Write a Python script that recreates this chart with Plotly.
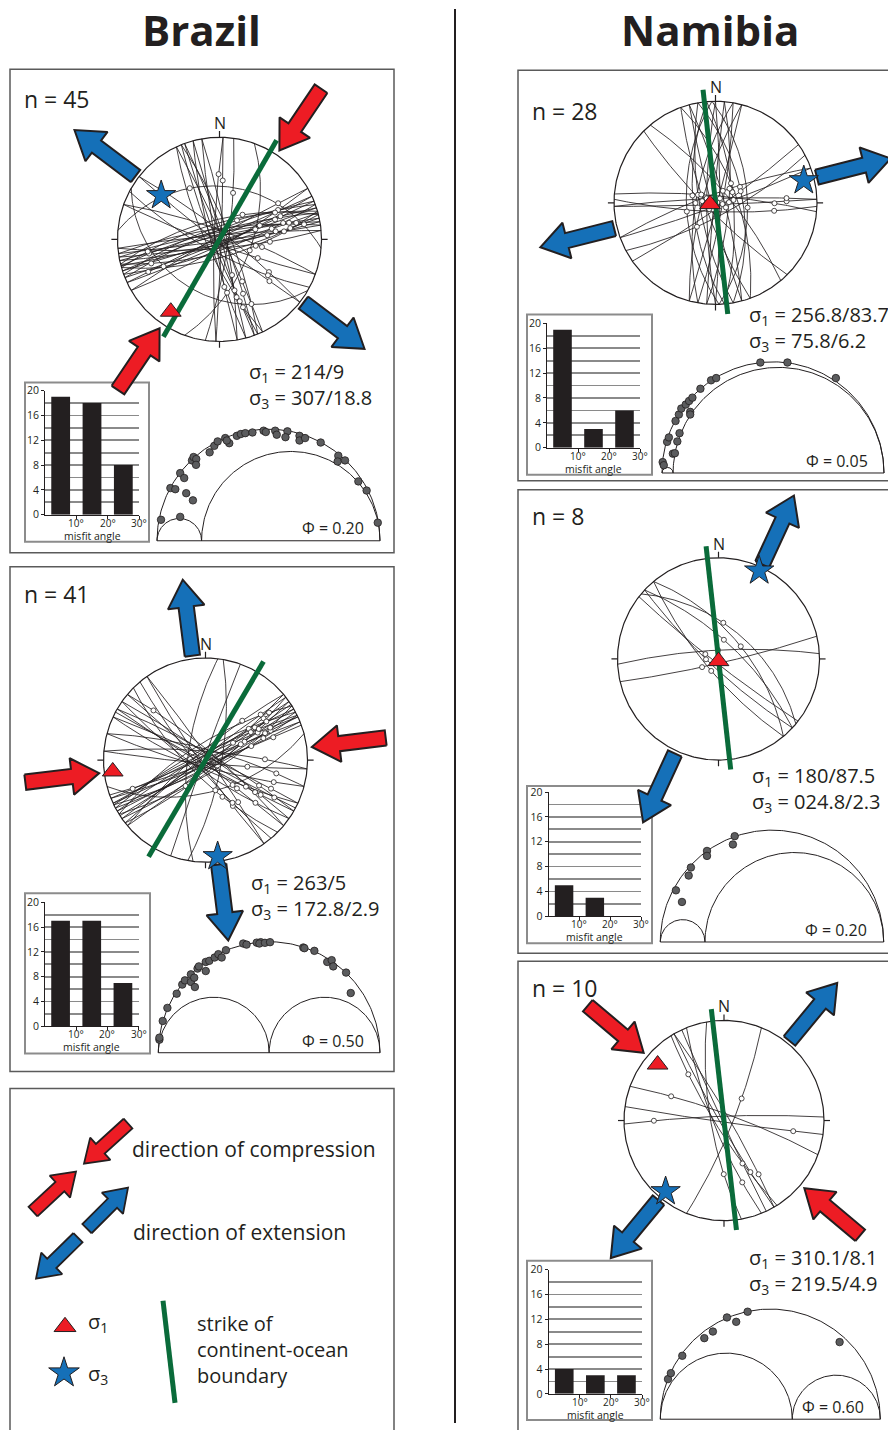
import numpy as np
import plotly.graph_objects as go

W, H = 888, 1430
SY = 1446 / 1430          # vertical compensation of the page capture
FONT = "Open Sans"
INK = "#231F20"
RED = "#ED1C24"
BLUE = "#1570B8"
GREEN = "#0A6B3A"
DOTC = "#5B5C5E"
BOXC = "#8C8C8C"
FRAME = "#5A5A5A"

# ------------------------------------------------------------------ data
# Brazil, upper panel
b1_n = 45
b1_strike = [75, 255, 72, 252, 78, 258, 70, 250, 80, 260, 68, 248, 74, 254, 82, 262, 65, 245, 76, 256, 85, 265, 60, 240,
             160, 340, 165, 345, 158, 338, 170, 350, 155, 335,
             110, 290, 128, 308, 118,
             2, 182, 8,
             275, 120, 20]
b1_dip = [85, 80, 88, 84, 82, 86, 78, 76, 84, 82, 86, 80, 70, 72, 88, 78, 84, 88, 75, 68, 80, 85, 82, 86,
          86, 84, 80, 88, 82, 78, 85, 82, 75, 86,
          84, 80, 86, 82, 75,
          88, 84, 80,
          35, 32, 55]
b1_rake = [35, 20, 50, 155, 20, 160, 25, 115, 40, 165, 30, 155, 55, 20, 25, 170, 45, 15, 160, 120, 38, 148, 28, 158,
           25, 150, 35, 145, 20, 160, 40, 130, 30, 140,
           45, 135, 25, 150, 30,
           30, 155, 40,
           60, 120, 90]
b1_sigma1 = (214, 9)
b1_sigma3 = (307, 18.8)
b1_sigma1_text = "214/9"
b1_sigma3_text = "307/18.8"
b1_misfit = [19, 18, 8]
b1_phi = 0.20
b1_mohr_x = [0.018, 0.104, 0.060, 0.082, 0.104, 0.122, 0.131, 0.161, 0.157, 0.164, 0.176, 0.175, 0.236, 0.257, 0.272,
             0.306, 0.324, 0.313, 0.358, 0.376, 0.396, 0.428, 0.478, 0.488, 0.530, 0.537, 0.585, 0.576, 0.639, 0.639,
             0.664, 0.734, 0.813, 0.810, 0.843, 0.903, 0.940, 0.990]
b1_mohr_y = [0.094, 0.107, 0.236, 0.231, 0.303, 0.281, 0.213, 0.181, 0.360, 0.375, 0.366, 0.340, 0.396, 0.425, 0.445,
             0.460, 0.437, 0.449, 0.470, 0.478, 0.482, 0.485, 0.493, 0.487, 0.493, 0.475, 0.490, 0.464, 0.470, 0.449,
             0.460, 0.440, 0.381, 0.355, 0.360, 0.266, 0.225, 0.081]
b1_cob_strike = 30

# Brazil, lower panel
b2_n = 41
b2_strike = [60, 240, 55, 235, 62, 242, 65, 245, 50, 230, 58, 238, 68, 248, 52, 232, 64, 244, 70, 57,
             120, 300, 115, 295, 125, 305, 130, 310, 145, 325, 105, 285, 135, 118, 140,
             187, 10, 75, 95, 275, 200]
b2_dip = [86, 84, 80, 88, 82, 78, 88, 85, 84, 80, 75, 72, 84, 88, 78, 86, 80, 82, 86, 88,
          85, 82, 80, 86, 78, 84, 88, 80, 84, 86, 82, 78, 72, 88, 80,
          70, 72, 55, 86, 80, 88]
b2_rake = [30, 150, 45, 160, 25, 160, 20, 125, 35, 145, 20, 165, 40, 15, 50, 160, 28, 152, 20, 35,
           30, 150, 40, 160, 25, 155, 45, 20, 35, 145, 20, 160, 50, 15, 38,
           60, 120, 70, 45, 150, 90]
b2_sigma1 = (263, 5)
b2_sigma3 = (172.8, 2.9)
b2_sigma1_text = "263/5"
b2_sigma3_text = "172.8/2.9"
b2_misfit = [17, 17, 7]
b2_phi = 0.50
b2_mohr_x = [0.005, 0.005, 0.020, 0.041, 0.083, 0.108, 0.120, 0.147, 0.147, 0.162, 0.165, 0.177, 0.183, 0.214, 0.214,
             0.230, 0.254, 0.271, 0.286, 0.305, 0.383, 0.398, 0.444, 0.462, 0.456, 0.481, 0.504, 0.654, 0.659, 0.704,
             0.762, 0.782, 0.789, 0.847, 0.868]
b2_mohr_y = [0.059, 0.068, 0.143, 0.202, 0.266, 0.307, 0.326, 0.319, 0.353, 0.338, 0.296, 0.379, 0.389, 0.368, 0.409,
             0.414, 0.429, 0.444, 0.429, 0.462, 0.492, 0.487, 0.496, 0.498, 0.492, 0.495, 0.498, 0.474, 0.471, 0.459,
             0.409, 0.417, 0.389, 0.361, 0.269]
b2_cob_strike = 30.5

# Namibia, upper panel
n1_n = 28
n1_strike = [0, 180, 355, 175, 5, 185, 350, 170, 10, 190, 358, 178, 345, 165, 15, 195, 340, 160,
             88, 268, 92, 275, 70, 250, 55, 62, 135, 320]
n1_dip = [85, 80, 70, 65, 75, 88, 60, 72, 82, 68, 55, 58, 80, 85, 88, 75, 66, 78,
          88, 85, 80, 82, 86, 80, 84, 75, 80, 75]
n1_rake = [85, 95, 80, 100, 88, 92, 78, 102, 90, 86, 96, 82, 98, 84, 94, 88, 76, 104,
           20, 160, 30, 150, 70, 110, 60, 120, 90, 85]
n1_sigma1 = (256.8, 83.7)
n1_sigma3 = (75.8, 6.2)
n1_sigma1_text = "256.8/83.7"
n1_sigma3_text = "75.8/6.2"
n1_misfit = [19, 3, 6]
n1_phi = 0.05
n1_mohr_x = [0.003, 0.008, 0.023, 0.031, 0.049, 0.058, 0.069, 0.079, 0.061, 0.076, 0.087, 0.107, 0.122, 0.137, 0.127,
             0.127, 0.173, 0.221, 0.244, 0.443, 0.565, 0.783]
n1_mohr_y = [0.049, 0.035, 0.140, 0.160, 0.087, 0.089, 0.142, 0.179, 0.234, 0.263, 0.290, 0.308, 0.324, 0.339, 0.275,
             0.263, 0.379, 0.417, 0.427, 0.497, 0.497, 0.427]
n1_cob_strike = 353.7

# Namibia, middle panel
n2_n = 8
n2_strike = [313, 320, 133, 140, 128, 310, 77, 267]
n2_dip = [70, 62, 80, 75, 85, 55, 85, 80]
n2_rake = [80, 95, 100, 85, 105, 70, 110, 90]
n2_sigma1 = (180, 87.5)
n2_sigma3 = (24.8, 2.3)
n2_sigma1_text = "180/87.5"
n2_sigma3_text = "024.8/2.3"
n2_misfit = [5, 3, 0]
n2_phi = 0.20
n2_mohr_x = [0.070, 0.097, 0.127, 0.137, 0.209, 0.209, 0.325, 0.333]
n2_mohr_y = [0.231, 0.179, 0.297, 0.333, 0.407, 0.385, 0.436, 0.473]
n2_cob_strike = 353.7

# Namibia, lower panel
n3_n = 10
n3_strike = [150, 148, 155, 330, 158, 170, 268, 98, 290, 22]
n3_dip = [85, 80, 88, 84, 78, 75, 85, 88, 82, 80]
n3_rake = [30, 150, 40, 155, 25, 35, 20, 20, 30, 60]
n3_sigma1 = (310.1, 8.1)
n3_sigma3 = (219.5, 4.9)
n3_sigma1_text = "310.1/8.1"
n3_sigma3_text = "219.5/4.9"
n3_misfit = [4, 3, 3]
n3_phi = 0.60
n3_mohr_x = [0.035, 0.048, 0.100, 0.200, 0.239, 0.303, 0.345, 0.397, 0.815]
n3_mohr_y = [0.182, 0.209, 0.288, 0.368, 0.398, 0.462, 0.442, 0.488, 0.350]
n3_cob_strike = 353.5

misfit_centers = [5, 15, 25]
misfit_ticks = [10, 20, 30]
misfit_ticktext = ["10°", "20°", "30°"]
count_ticks = [0, 4, 8, 12, 16, 20]

panels = [
    dict(n=b1_n, strike=b1_strike, dip=b1_dip, rake=b1_rake, s1=b1_sigma1, s3=b1_sigma3, s1t=b1_sigma1_text,
         s3t=b1_sigma3_text, misfit=b1_misfit, phi=b1_phi, mx=b1_mohr_x, my=b1_mohr_y, cob=b1_cob_strike),
    dict(n=b2_n, strike=b2_strike, dip=b2_dip, rake=b2_rake, s1=b2_sigma1, s3=b2_sigma3, s1t=b2_sigma1_text,
         s3t=b2_sigma3_text, misfit=b2_misfit, phi=b2_phi, mx=b2_mohr_x, my=b2_mohr_y, cob=b2_cob_strike),
    dict(n=n1_n, strike=n1_strike, dip=n1_dip, rake=n1_rake, s1=n1_sigma1, s3=n1_sigma3, s1t=n1_sigma1_text,
         s3t=n1_sigma3_text, misfit=n1_misfit, phi=n1_phi, mx=n1_mohr_x, my=n1_mohr_y, cob=n1_cob_strike),
    dict(n=n2_n, strike=n2_strike, dip=n2_dip, rake=n2_rake, s1=n2_sigma1, s3=n2_sigma3, s1t=n2_sigma1_text,
         s3t=n2_sigma3_text, misfit=n2_misfit, phi=n2_phi, mx=n2_mohr_x, my=n2_mohr_y, cob=n2_cob_strike),
    dict(n=n3_n, strike=n3_strike, dip=n3_dip, rake=n3_rake, s1=n3_sigma1, s3=n3_sigma3, s1t=n3_sigma1_text,
         s3t=n3_sigma3_text, misfit=n3_misfit, phi=n3_phi, mx=n3_mohr_x, my=n3_mohr_y, cob=n3_cob_strike),
]

# ------------------------------------------------------------------ layout geometry (target pixels)
GEOM = [
    dict(box=(10, 70, 394, 553), nxy=(22, 100), stereo=(219.5, 240, 102), hbox=(25, 383, 149, 542),
         harea=(45, 391, 139, 515), mohr=(157, 380, 541), sxy=(247, 386)),
    dict(box=(10, 567, 394, 1071), nxy=(22, 594), stereo=(205.5, 760, 102), hbox=(25, 893, 150, 1053),
         harea=(45, 902, 138.5, 1026), mohr=(158.3, 380, 1052.3), sxy=(249, 896)),
    dict(box=(518, 71, 900, 481), nxy=(530, 112), stereo=(715.5, 203.5, 101.5), hbox=(527, 315, 652, 475),
         harea=(547, 324, 640, 448), mohr=(662, 884, 473.3), sxy=(747, 329)),
    dict(box=(518, 490, 900, 953), nxy=(530, 516), stereo=(718.5, 659, 101), hbox=(527, 786, 652, 943),
         harea=(548.7, 792, 641, 916), mohr=(660.3, 883.7, 941.7), sxy=(750, 789)),
    dict(box=(518, 961, 900, 1445), nxy=(530, 988), stereo=(724, 1120, 100), hbox=(527, 1260, 652, 1419),
         harea=(548.7, 1269, 642, 1393), mohr=(660.3, 880.3, 1418.3), sxy=(747, 1271)),
]

fig = go.Figure()
_axn = [0]


def fy(py):
    return py * SY - 8


def pap(px, py):
    return px / W, 1 - fy(py) / H


def add_axes(px0, py0, px1, py1, ox, oy, sx, sy):
    px0c, px1c = max(px0, 0), min(px1, W)
    py0c, py1c = max(py0, 8 / SY), min(py1, (H + 8) / SY)
    _axn[0] += 1
    k = _axn[0]
    suf = "" if k == 1 else str(k)
    xr = [(px0c - ox) / sx, (px1c - ox) / sx]
    yr = [(oy - py1c) / sy, (oy - py0c) / sy]
    a, b = pap(px0c, py0c)
    c, d = pap(px1c, py1c)
    fig.update_layout(**{
        "xaxis" + suf: dict(domain=[max(a, 0), min(c, 1)], range=xr, anchor="y" + suf, visible=False,
                            fixedrange=True, showgrid=False, zeroline=False),
        "yaxis" + suf: dict(domain=[max(d, 0), min(b, 1)], range=yr, anchor="x" + suf, visible=False,
                            fixedrange=True, showgrid=False, zeroline=False),
    })
    return "x" + suf, "y" + suf, suf


def add(tr, xa, ya):
    tr.update(xaxis=xa, yaxis=ya, showlegend=False, hoverinfo="skip")
    fig.add_trace(tr)


annotations = []
shapes = []


def text(px, py, s, size, xanchor="left", yanchor="middle", bold=False, align="left"):
    x, y = pap(px, py)
    annotations.append(dict(x=x, y=y, xref="paper", yref="paper", text=("<b>%s</b>" % s) if bold else s,
                            showarrow=False, xanchor=xanchor, yanchor=yanchor, align=align,
                            font=dict(family=FONT, size=size, color=INK)))


def rect(x0, y0, x1, y1, **kw):
    a, b = pap(x0, y0)
    c, d = pap(x1, y1)
    shapes.append(dict(type="rect", xref="paper", yref="paper", x0=a, y0=d, x1=c, y1=b, layer="below", **kw))


def arrow_poly(x0, y0, x1, y1, sw, hw, hl):
    dx, dy = x1 - x0, y1 - y0
    L = np.hypot(dx, dy)
    ux, uy = dx / L, dy / L
    nx, ny = -uy, ux
    bx, by = x1 - ux * hl, y1 - uy * hl
    pts = [(x0 + nx * sw, y0 + ny * sw), (bx + nx * sw, by + ny * sw), (bx + nx * hw, by + ny * hw), (x1, y1),
           (bx - nx * hw, by - ny * hw), (bx - nx * sw, by - ny * sw), (x0 - nx * sw, y0 - ny * sw),
           (x0 + nx * sw, y0 + ny * sw)]
    return [p[0] for p in pts], [p[1] for p in pts]


def plane_vecs(strike, dip):
    s, d = np.radians(strike), np.radians(dip)
    S = np.array([np.sin(s), np.cos(s), 0.0])
    dd = s + np.pi / 2
    D = np.array([np.cos(d) * np.sin(dd), np.cos(d) * np.cos(dd), np.sin(d)])
    return S, D


def plane_curve(strike, dip):
    S, D = plane_vecs(strike, dip)
    b = np.radians(np.linspace(0, 180, 121))
    v = np.outer(np.cos(b), S) + np.outer(np.sin(b), D)
    return v[:, 0] / (1 + v[:, 2]), v[:, 1] / (1 + v[:, 2])


def rake_point(strike, dip, rake):
    S, D = plane_vecs(strike, dip)
    r = np.radians(rake)
    v = np.cos(r) * S + np.sin(r) * D
    return v[0] / (1 + v[2]), v[1] / (1 + v[2])


def line_point(trend, plunge):
    t, p = np.radians(trend), np.radians(plunge)
    return np.cos(p) * np.sin(t) / (1 + np.sin(p)), np.cos(p) * np.cos(t) / (1 + np.sin(p))


# ------------------------------------------------------------------ frames, titles
text(201, 30, "Brazil", 42, xanchor="center", bold=True)
text(710, 30, "Namibia", 42, xanchor="center", bold=True)
a, b = pap(455, 10)
shapes.append(dict(type="line", xref="paper", yref="paper", x0=a, x1=a, y0=b, y1=0, line=dict(color=INK, width=2)))
for G in GEOM:
    rect(*G["box"], line=dict(color=FRAME, width=1.5))
    rect(*G["hbox"], fillcolor="white", line=dict(color=BOXC, width=2))
rect(10, 1088, 394, 1445, line=dict(color=FRAME, width=1.5))

# ------------------------------------------------------------------ Mohr diagrams and histograms
t = np.linspace(0, np.pi, 181)
for P, G in zip(panels, GEOM):
    ml, mr, mb = G["mohr"]
    s = mr - ml
    xa, ya, suf = add_axes(ml - 0.04 * s, mb - 0.56 * s, mr + 0.04 * s, mb + 0.03 * s, ml, mb, s, s)
    phi = P["phi"]
    xs, ys = [], []
    for c0, r0 in [(0.5, 0.5), (phi / 2, phi / 2), ((1 + phi) / 2, (1 - phi) / 2)]:
        xs += list(c0 + r0 * np.cos(t)) + [None]
        ys += list(r0 * np.sin(t)) + [None]
    xs += [0, 1]
    ys += [0, 0]
    add(go.Scatter(x=xs, y=ys, mode="lines", line=dict(color=INK, width=1)), xa, ya)
    add(go.Scatter(x=P["mx"], y=P["my"], mode="markers",
                   marker=dict(size=7.5, color=DOTC, line=dict(color=INK, width=0.8))), xa, ya)
    annotations.append(dict(x=0.935, y=0.055, xref=xa, yref=ya, text="Φ = %.2f" % phi, showarrow=False,
                            xanchor="right", yanchor="middle", font=dict(family=FONT, size=16, color=INK)))

    # histogram of misfit angles
    hx0, hy0, hx1, hy1 = G["harea"]
    xa, ya, suf = add_axes(hx0, hy0, hx1, hy1, hx0, hy1, (hx1 - hx0) / 30, (hy1 - hy0) / 20)
    fig.update_layout(**{
        "xaxis" + suf: dict(visible=True, tickvals=misfit_ticks, showticklabels=False,
                            ticks="outside", ticklen=3, tickcolor=INK, showline=True, linecolor=INK,
                            linewidth=1, showgrid=False, zeroline=False),
        "yaxis" + suf: dict(visible=True, tickvals=count_ticks,
                            ticks="outside", ticklen=3, tickcolor=INK, showline=True, linecolor=INK,
                            linewidth=1, showgrid=True, gridcolor="#8A8A8A", gridwidth=1.8, zeroline=False,
                            minor=dict(dtick=2, tick0=0, showgrid=True, gridcolor="#8A8A8A", gridwidth=1.8,
                                       ticks=""),
                            tickfont=dict(family=FONT, size=10.5, color=INK)),
    })
    add(go.Bar(x=misfit_centers, y=P["misfit"], width=6, marker=dict(color=INK, line=dict(width=0))), xa, ya)
    for tv, tt in zip(misfit_ticks, misfit_ticktext):
        annotations.append(dict(x=tv, y=0, xref=xa, yref=ya, text=tt, showarrow=False, xanchor="center",
                                yanchor="top", yshift=1, font=dict(family=FONT, size=10, color=INK)))
    annotations.append(dict(x=15, y=0, xref=xa, yref=ya, text="misfit angle", showarrow=False, xanchor="center",
                            yanchor="top", yshift=-12, font=dict(family=FONT, size=10.5, color=INK)))

    # panel texts
    text(G["nxy"][0], G["nxy"][1], "n = %d" % P["n"], 23)
    text(G["sxy"][0], G["sxy"][1], "σ<sub>1</sub> = " + P["s1t"] + "<br>σ<sub>3</sub> = " + P["s3t"], 20)

# ------------------------------------------------------------------ legend
xa, ya, suf = add_axes(10, 1088, 394, 1430, 0, 0, 1, -1)
for (x0, y0, x1, y1), col in [((128, 1123, 84, 1163), RED), ((33, 1211, 76, 1171), RED),
                              ((87, 1228, 128, 1187), BLUE), ((78, 1237, 36, 1278), BLUE)]:
    px_, py_ = arrow_poly(x0, y0, x1, y1, 6.5, 15, 22)
    add(go.Scatter(x=px_, y=py_, mode="lines", fill="toself", fillcolor=col, line=dict(color=INK, width=1.8)),
        xa, ya)
add(go.Scatter(x=[65], y=[1326], mode="markers",
               marker=dict(symbol="triangle-up", size=19, color=RED, line=dict(color=INK, width=1))), xa, ya)
add(go.Scatter(x=[64], y=[1372], mode="markers",
               marker=dict(symbol="star", size=23, color=BLUE, line=dict(color=INK, width=1))), xa, ya)
add(go.Scatter(x=[163, 175], y=[1300, 1402], mode="lines", line=dict(color=GREEN, width=5)), xa, ya)
text(130, 1148, "direction of compression", 21)
text(131, 1231, "direction of extension", 21)
text(86, 1348, "σ<sub>1</sub><br><br>σ<sub>3</sub>", 20)
text(195, 1349, "strike of<br>continent-ocean<br>boundary", 20)

# ------------------------------------------------------------------ stereonets
circ = np.linspace(0, 2 * np.pi, 361)
for P, G in zip(panels, GEOM):
    cx, cy, R = G["stereo"]
    xa, ya, suf = add_axes(cx - 2 * R, cy - 2 * R, cx + 2 * R, cy + 2 * R, cx, cy, R, R)
    xs = list(np.cos(circ)) + [None]
    ys = list(np.sin(circ)) + [None]
    for az in [0, 90, 180, 270]:
        a = np.radians(az)
        xs += [np.sin(a), 1.06 * np.sin(a), None]
        ys += [np.cos(a), 1.06 * np.cos(a), None]
    add(go.Scatter(x=xs, y=ys, mode="lines", line=dict(color=INK, width=1.2)), xa, ya)
    xs, ys = [], []
    for st, dp in zip(P["strike"], P["dip"]):
        gx, gy = plane_curve(st, dp)
        xs += list(gx) + [None]
        ys += list(gy) + [None]
    add(go.Scatter(x=xs, y=ys, mode="lines", line=dict(color=INK, width=0.85)), xa, ya)
    pts = [rake_point(st, dp, rk) for st, dp, rk in zip(P["strike"], P["dip"], P["rake"])]
    add(go.Scatter(x=[p[0] for p in pts], y=[p[1] for p in pts], mode="markers",
                   marker=dict(size=5, color="white", line=dict(color=INK, width=0.8))), xa, ya)
    a = np.radians(P["cob"])
    add(go.Scatter(x=[-1.1 * np.sin(a), 1.12 * np.sin(a)], y=[-1.1 * np.cos(a), 1.12 * np.cos(a)], mode="lines",
                   line=dict(color=GREEN, width=5)), xa, ya)
    if P["s1"][1] < 45:
        for az in [P["s1"][0], P["s1"][0] + 180]:
            a = np.radians(az)
            px_, py_ = arrow_poly(1.78 * np.sin(a), 1.78 * np.cos(a), 1.05 * np.sin(a), 1.05 * np.cos(a),
                                  0.075, 0.18, 0.27)
            add(go.Scatter(x=px_, y=py_, mode="lines", fill="toself", fillcolor=RED,
                           line=dict(color=INK, width=2)), xa, ya)
    if P["s3"][1] < 45:
        for az in [P["s3"][0], P["s3"][0] + 180]:
            a = np.radians(az)
            px_, py_ = arrow_poly(1.03 * np.sin(a), 1.03 * np.cos(a), 1.78 * np.sin(a), 1.78 * np.cos(a),
                                  0.075, 0.18, 0.27)
            add(go.Scatter(x=px_, y=py_, mode="lines", fill="toself", fillcolor=BLUE,
                           line=dict(color=INK, width=2)), xa, ya)
    x1, y1 = line_point(*P["s1"])
    add(go.Scatter(x=[x1], y=[y1], mode="markers",
                   marker=dict(symbol="triangle-up", size=18, color=RED, line=dict(color=INK, width=1))), xa, ya)
    x3, y3 = line_point(*P["s3"])
    add(go.Scatter(x=[x3], y=[y3], mode="markers",
                   marker=dict(symbol="star", size=22, color=BLUE, line=dict(color=INK, width=1))), xa, ya)
    annotations.append(dict(x=0, y=1.14, xref=xa, yref=ya, text="N", showarrow=False, xanchor="center",
                            yanchor="middle", font=dict(family=FONT, size=16, color=INK)))

fig.update_layout(width=W, height=H, margin=dict(l=0, r=0, t=0, b=0), paper_bgcolor="white",
                  plot_bgcolor="rgba(0,0,0,0)", showlegend=False, annotations=annotations, shapes=shapes,
                  font=dict(family=FONT, color=INK))

fig.write_html("out.html", config={"displayModeBar": False, "staticPlot": True},
               post_script="document.body.style.margin='0';document.body.style.overflow='hidden';")
